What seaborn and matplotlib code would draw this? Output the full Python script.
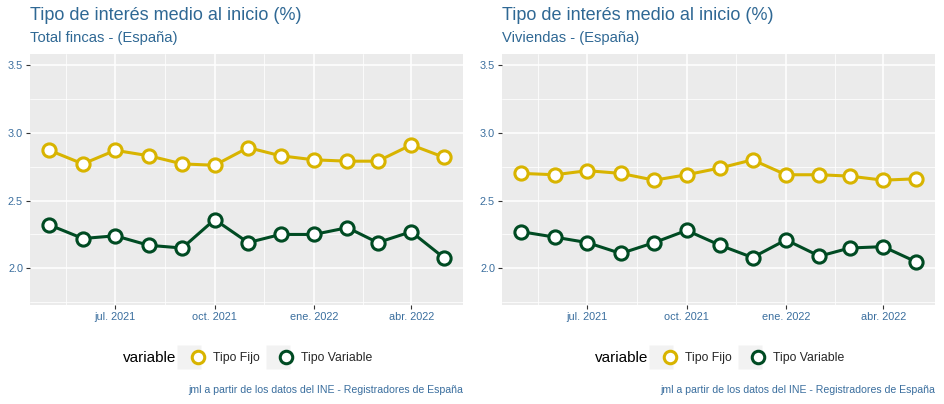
import pandas as pd
import numpy as np
import matplotlib.pyplot as plt
import seaborn as sns
from matplotlib.lines import Line2D
from matplotlib.legend_handler import HandlerTuple

# Data (monthly, May 2021 - May 2022)
months = pd.date_range("2021-05-01", "2022-05-01", freq="MS")

total_fijo = [2.87, 2.77, 2.87, 2.83, 2.77, 2.76, 2.89, 2.83, 2.80, 2.79, 2.79, 2.91, 2.82]
total_variable = [2.32, 2.22, 2.24, 2.17, 2.15, 2.36, 2.19, 2.25, 2.25, 2.30, 2.19, 2.27, 2.08]

viv_fijo = [2.70, 2.69, 2.72, 2.70, 2.65, 2.69, 2.74, 2.80, 2.69, 2.69, 2.68, 2.65, 2.66]
viv_variable = [2.27, 2.23, 2.19, 2.11, 2.19, 2.28, 2.17, 2.08, 2.21, 2.09, 2.15, 2.16, 2.05]

tick_dates = pd.to_datetime(["2021-07-01", "2021-10-01", "2022-01-01", "2022-04-01"])
tick_labels = ["jul. 2021", "oct. 2021", "ene. 2022", "abr. 2022"]
minor_dates = pd.to_datetime(["2021-05-16", "2021-08-16", "2021-11-16", "2022-02-15"])

series_names = ["Tipo Fijo", "Tipo Variable"]
colors = {"Tipo Fijo": "#D8B400", "Tipo Variable": "#004B23"}

title = "Tipo de interés medio al inicio (%)"
subtitles = ["Total fincas - (España)", "Viviendas - (España)"]
caption = "jml a partir de los datos del INE - Registradores de España"

blue = "#3A6E9E"

sns.set_style("whitegrid")
plt.rcParams["font.family"] = ["Liberation Sans", "DejaVu Sans"]

fig = plt.figure(figsize=(9.44, 4.04), dpi=100)
W, H = 944, 404

panels = [
    (30, total_fijo, total_variable, subtitles[0]),
    (502, viv_fijo, viv_variable, subtitles[1]),
]

for x0, fijo, variable, sub in panels:
    ax = fig.add_axes([x0 / W, (H - 305) / H, 433 / W, 251 / H])
    df = pd.DataFrame({
        "fecha": np.concatenate([months, months]),
        "valor": fijo + variable,
        "variable": [series_names[0]] * len(months) + [series_names[1]] * len(months),
    })
    sns.lineplot(data=df, x="fecha", y="valor", hue="variable", palette=colors,
                 marker="o", markersize=9.5, markerfacecolor="white",
                 markeredgewidth=2.2, linewidth=2.2, legend=False, ax=ax)
    for ln in ax.lines:
        ln.set_markeredgecolor(ln.get_color())
        ln.set_solid_joinstyle("round")

    ax.set_facecolor("#EBEBEB")
    for s in ax.spines.values():
        s.set_visible(False)
    ax.set_xlim(pd.Timestamp("2021-04-13"), pd.Timestamp("2022-05-19"))
    ax.set_ylim(1.73, 3.58)
    ax.set_yticks([2.0, 2.5, 3.0, 3.5])
    ax.set_yticks([1.75, 2.25, 2.75, 3.25], minor=True)
    ax.set_yticklabels(["2.0", "2.5", "3.0", "3.5"])
    ax.set_xticks(tick_dates)
    ax.set_xticks(minor_dates, minor=True)
    ax.set_xticklabels(tick_labels)
    ax.grid(which="major", color="white", linewidth=1.1)
    ax.grid(which="minor", color="white", linewidth=0.55)
    ax.tick_params(axis="both", which="major", length=3, width=0.8, color="#333333",
                   labelsize=7.8, labelcolor=blue, pad=2, bottom=True, left=True)
    ax.tick_params(which="minor", length=0)
    ax.set_xlabel("")
    ax.set_ylabel("")

    fig.text(x0 / W, 1 - 16 / H, title, fontsize=13, color="#2F6894", va="center", ha="left")
    fig.text(x0 / W, 1 - 38 / H, sub, fontsize=10.6, color="#2F6894", va="center", ha="left")
    fig.text((x0 + 433) / W, 1 - 390 / H, caption, fontsize=7.6, color=blue, va="center", ha="right")

    handles = []
    for name in series_names:
        bg = Line2D([], [], marker="s", markersize=17, color="none",
                    markerfacecolor="#F2F2F2", markeredgecolor="none", linestyle="none")
        ln = Line2D([], [], color=colors[name], linewidth=2.2, marker="o", markersize=9,
                    markerfacecolor="white", markeredgecolor=colors[name], markeredgewidth=2.2)
        handles.append((bg, ln))
    leg = fig.legend(handles, series_names, handler_map={tuple: HandlerTuple(ndivide=None, pad=0)},
                     loc="center left", bbox_to_anchor=((x0 + 155) / W, 1 - 358 / H),
                     ncol=2, frameon=False, fontsize=8.8, handlelength=1.4,
                     handletextpad=0.9, columnspacing=1.1, borderaxespad=0, borderpad=0)
    fig.text((x0 + 93) / W, 1 - 358 / H, "variable", fontsize=11, color="black",
             va="center", ha="left")

fig.savefig("out.png", dpi=100)
